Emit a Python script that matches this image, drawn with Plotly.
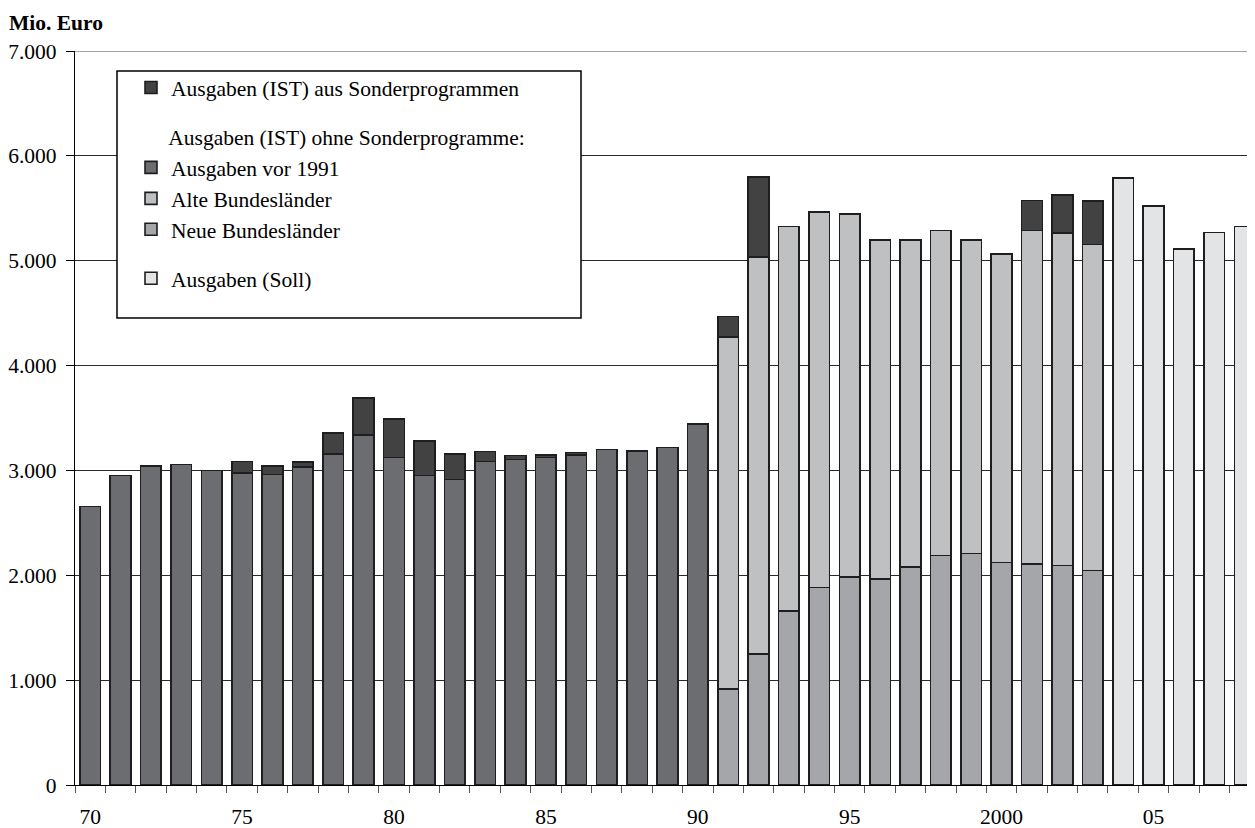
import plotly.graph_objects as go

years = [str(y) for y in range(1970, 2009)]

# Ausgaben vor 1991 (1970-1990)
vor_1991 = [2655, 2950, 3040, 3055, 3000, 2975, 2960, 3030, 3157, 3338, 3125,
            2953, 2915, 3087, 3106, 3125, 3147, 3198, 3188, 3217, 3440] + [None] * 18
# Neue Bundesländer (1991-2003)
neue = [None] * 21 + [917, 1250, 1661, 1882, 1982, 1962, 2079, 2187, 2207, 2123,
                      2107, 2095, 2047] + [None] * 5
# Alte Bundesländer (1991-2003)
alte = [None] * 21 + [3353, 3784, 3667, 3582, 3462, 3237, 3120, 3100, 2992, 2943,
                      3180, 3168, 3108] + [None] * 5
# Sonderprogramme
sonder = [None, None, None, None, None, 112, 82, 50, 200, 353, 365, 325, 242, 92,
          38, 25, 25, None, None, None, None,
          197, 764, None, None, None, None, None, None, None, None,
          286, 366, 414] + [None] * 5
# Soll (2004-2008)
soll = [None] * 34 + [5789, 5521, 5111, 5271, 5328]

tick_labels = {"1970": "70", "1975": "75", "1980": "80", "1985": "85", "1990": "90",
               "1995": "95", "2000": "2000", "2005": "05"}

FONT = "Liberation Serif, Times New Roman, serif"
FS = 21.5
OUTLINE = dict(color="#1e1e1e", width=1.6)

fig = go.Figure()
fig.add_bar(x=years, y=vor_1991, name="Ausgaben vor 1991", marker=dict(color="#6c6d71", line=OUTLINE),
            legendgroup="g2", legendrank=2,
            legendgrouptitle=dict(text="\u00a0" * 6 + "Ausgaben (IST) ohne Sonderprogramme:",
                                  font=dict(family=FONT, size=FS, color="black")))
fig.add_bar(x=years, y=neue, name="Neue Bundesländer", marker=dict(color="#a5a6a9", line=OUTLINE),
            legendgroup="g2", legendrank=4)
fig.add_bar(x=years, y=alte, name="Alte Bundesländer", marker=dict(color="#bfc0c2", line=OUTLINE),
            legendgroup="g2", legendrank=3)
fig.add_bar(x=years, y=sonder, name="Ausgaben (IST) aus Sonderprogrammen",
            marker=dict(color="#424242", line=OUTLINE), legendgroup="g1", legendrank=1)
fig.add_bar(x=years, y=soll, name="Ausgaben (Soll)", marker=dict(color="#e3e4e5", line=OUTLINE),
            legendgroup="g3", legendrank=5)

W, H = 1255, 828
OFF = 8  # page body offset
L, R, T = 67, 8, 43
pw, ph = 1180, 734
B = H - T - ph

def px_x(s):
    return (s - OFF - L) / pw

def px_y(s):
    return 1 - (s - OFF - T) / ph

fig.update_layout(
    width=W, height=H,
    margin=dict(l=L, r=R, t=T, b=B, autoexpand=False),
    barmode="stack",
    bargap=0.32,
    plot_bgcolor="white", paper_bgcolor="white",
    separators=",.",
    font=dict(family=FONT, size=FS, color="black"),
    showlegend=True,
    legend=dict(x=px_x(131), y=px_y(67), xanchor="left", yanchor="top",
                bgcolor="rgba(0,0,0,0)", borderwidth=0,
                traceorder="grouped", tracegroupgap=18,
                font=dict(family=FONT, size=FS, color="black")),
    xaxis=dict(type="category", categoryorder="array", categoryarray=years,
               range=[-0.5, 38.34], tickson="boundaries", automargin=False,
               tickmode="array", tickvals=years,
               ticktext=[tick_labels.get(y, "") for y in years],
               tickangle=0, ticklabelstandoff=12,
               ticks="outside", ticklen=7, tickcolor="#555", tickwidth=1.2,
               showgrid=False, showline=True, linecolor="black", linewidth=1.2,
               tickfont=dict(family=FONT, size=FS, color="black")),
    yaxis=dict(range=[0, 7000], dtick=1000, tickformat=",d", automargin=False,
               showgrid=True, gridcolor="#2a2a2a", gridwidth=1,
               zeroline=False,
               showline=True, linecolor="black", linewidth=1.2,
               ticks="outside", ticklen=8, tickcolor="black",
               ticklabelstandoff=5,
               tickfont=dict(family=FONT, size=FS, color="black")),
    shapes=[
        dict(type="line", xref="paper", yref="y", x0=0, x1=1, y0=7000, y1=7000,
             line=dict(color="#a3a3a3", width=2), layer="above"),
        dict(type="rect", xref="paper", yref="paper",
             x0=px_x(117), x1=px_x(581), y0=px_y(318), y1=px_y(71),
             fillcolor="white", line=dict(color="black", width=1.5), layer="above"),
    ],
    annotations=[
        dict(text="<b>Mio. Euro</b>", xref="paper", yref="paper", x=px_x(7), y=px_y(9),
             xanchor="left", yanchor="top", showarrow=False,
             font=dict(family=FONT, size=FS, color="black")),
    ],
)

fig.write_html("out.html")
